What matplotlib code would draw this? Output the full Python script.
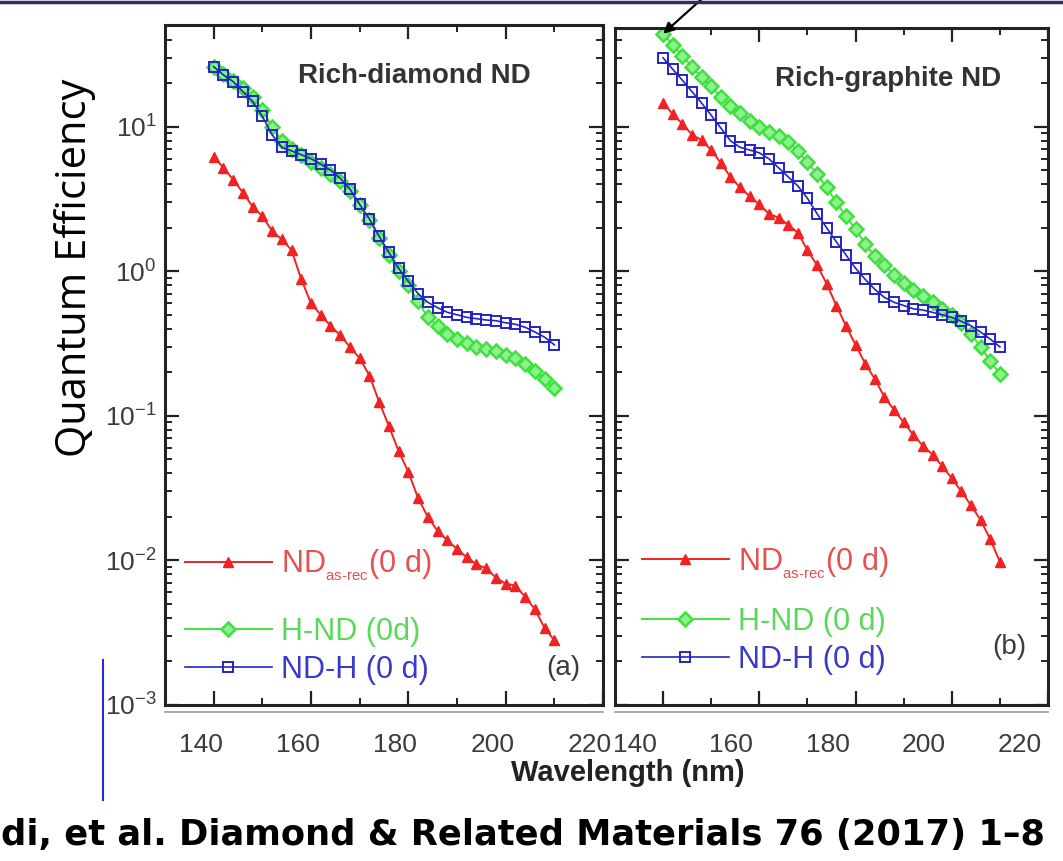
import matplotlib
matplotlib.use("Agg")
import matplotlib.pyplot as plt
from matplotlib.lines import Line2D
from matplotlib.transforms import ScaledTranslation

plt.rcParams['font.family'] = ['Liberation Sans', 'DejaVu Sans']
plt.rcParams['mathtext.fontset'] = 'custom'
plt.rcParams['mathtext.rm'] = 'Liberation Sans'
plt.rcParams['mathtext.it'] = 'Liberation Sans:italic'
plt.rcParams['mathtext.bf'] = 'Liberation Sans:bold'

# longitud de onda (nm), la misma para todas las curvas
longitud = [140, 142, 144, 146, 148, 150, 152, 154, 156, 158, 160, 162,
            164, 166, 168, 170, 172, 174, 176, 178, 180, 182, 184, 186,
            188, 190, 192, 194, 196, 198, 200, 202, 204, 206, 208, 210]

# (a) Rich-diamond ND
rojo_a = [6.2, 5.2, 4.3, 3.5, 2.8, 2.4, 1.9, 1.66, 1.4, 0.88, 0.6, 0.5,
          0.42, 0.36, 0.30, 0.25, 0.19, 0.125, 0.085, 0.057, 0.041, 0.027, 0.020, 0.016,
          0.0138, 0.012, 0.0105, 0.0094, 0.0088, 0.0076, 0.0069, 0.0067, 0.0056, 0.0046, 0.0034, 0.0028]
verde_a = [26, 23, 20.8, 18.5, 16, 13, 10, 8.0, 7.0, 6.4, 5.7, 5.2,
           4.7, 4.2, 3.6, 2.85, 2.25, 1.7, 1.3, 1.0, 0.80, 0.62, 0.48, 0.42,
           0.37, 0.34, 0.32, 0.30, 0.29, 0.28, 0.265, 0.25, 0.23, 0.205, 0.18, 0.155]
azul_a = [26, 22.8, 20.5, 17.5, 15, 11.8, 8.8, 7.2, 6.8, 6.4, 6.0, 5.5,
          5.0, 4.4, 3.7, 2.9, 2.3, 1.75, 1.35, 1.05, 0.85, 0.70, 0.61, 0.56,
          0.52, 0.50, 0.48, 0.47, 0.46, 0.455, 0.44, 0.43, 0.41, 0.38, 0.35, 0.31]

# (b) Rich-graphite ND
rojo_b = [14.7, 12.2, 10.5, 8.8, 8.1, 6.9, 5.6, 4.5, 3.8, 3.3, 2.9, 2.5,
          2.35, 2.1, 1.85, 1.4, 1.1, 0.82, 0.58, 0.42, 0.31, 0.23, 0.18, 0.135,
          0.11, 0.09, 0.074, 0.062, 0.054, 0.045, 0.037, 0.030, 0.024, 0.019, 0.014, 0.0098]
verde_b = [44, 37, 31, 26, 22, 19, 16, 14, 12.5, 11, 10, 9.2,
           8.6, 7.9, 6.8, 5.7, 4.7, 3.8, 3.0, 2.4, 1.95, 1.55, 1.27, 1.1,
           0.95, 0.83, 0.74, 0.67, 0.61, 0.55, 0.50, 0.44, 0.37, 0.30, 0.24, 0.195]
azul_b = [30, 25, 21, 17.5, 14.6, 12, 9.8, 8.0, 7.2, 6.9, 6.6, 6.0,
          5.2, 4.5, 3.9, 3.2, 2.5, 2.0, 1.6, 1.3, 1.05, 0.88, 0.75, 0.66,
          0.61, 0.58, 0.55, 0.54, 0.52, 0.50, 0.48, 0.45, 0.42, 0.38, 0.34, 0.30]

etiquetas_a = [r'ND$_{_{\text{as-rec}}}$(0 d)', 'H-ND (0d)', 'ND-H (0 d)']
etiquetas_b = [r'ND$_{_{\text{as-rec}}}$(0 d)', 'H-ND (0 d)', 'ND-H (0 d)']

ROJO = '#f02222'
VERDE = '#3fe03f'
AZUL = '#2424c4'
GRIS = '#3c3c3c'
COLOR_TEXTO = ['#e65050', '#5ad85a', '#3a3ac8']


def dibujarCurvas(ax, rojo, verde, azul):
    ax.plot(longitud, rojo, color=ROJO, lw=1.4, marker='^', ms=7,
            mfc=ROJO, mec=ROJO)
    ax.plot(longitud, verde, color=VERDE, lw=1.4, marker='D', ms=7.5,
            mfc='#8cf28c', mec=VERDE, mew=1.8)
    ax.plot(longitud, azul, color=AZUL, lw=1.2, marker='s', ms=7,
            mfc='none', mec=AZUL, mew=1.4)


def formatoEjes(ax, arriba):
    ax.set_yscale('log')
    ax.set_xlim(130, 220)
    ax.set_ylim(1e-3, arriba)
    ax.set_xticks([140, 160, 180, 200, 220])
    ax.set_xticks([150, 170, 190, 210], minor=True)
    ax.tick_params(which='both', direction='in', top=True, right=True,
                   colors='#222222', labelcolor=GRIS, labelsize=19)
    ax.tick_params(which='major', length=10, width=1.6)
    ax.tick_params(which='minor', length=5, width=1.4)
    ax.tick_params(axis='x', pad=20)
    ax.tick_params(axis='y', pad=6)
    for lado in ax.spines.values():
        lado.set_linewidth(2.2)
        lado.set_color('#222222')


def correrEtiquetas(ax, dx):
    # las etiquetas del eje x en la figura original estan corridas a la izquierda
    desplazamiento = ScaledTranslation(dx / 100, 0, fig.dpi_scale_trans)
    for etiqueta in ax.get_xticklabels():
        etiqueta.set_transform(etiqueta.get_transform() + desplazamiento)


def leyenda(ax, etiquetas, x0, y_rojo, y0):
    lineas = ax.get_lines()
    opciones = dict(frameon=False, fontsize=22, handlelength=2.85,
                    handletextpad=0.3, labelspacing=0.25, borderpad=0,
                    borderaxespad=0)
    primera = ax.legend(lineas[:1], etiquetas[:1], loc='center left',
                        bbox_to_anchor=(x0, y_rojo), labelcolor=COLOR_TEXTO[:1],
                        **opciones)
    ax.add_artist(primera)
    ax.legend(lineas[1:], etiquetas[1:], loc='lower left',
              bbox_to_anchor=(x0, y0), labelcolor=COLOR_TEXTO[1:], **opciones)


fig = plt.figure(figsize=(10.63, 8.61), dpi=100)
ax1 = fig.add_axes([165 / 1063, 1 - 705 / 861, 438 / 1063, 680 / 861])
ax2 = fig.add_axes([615 / 1063, 1 - 705 / 861, 433 / 1063, 677 / 861])

dibujarCurvas(ax1, rojo_a, verde_a, azul_a)
formatoEjes(ax1, 50.5)
correrEtiquetas(ax1, -13)
leyenda(ax1, etiquetas_a, 0.045, 0.205, 0.03)
ax1.text(0.57, 0.925, 'Rich-diamond ND', transform=ax1.transAxes,
         ha='center', va='center', fontsize=20, fontweight='bold', color='#333333')
ax1.text(0.91, 0.055, '(a)', transform=ax1.transAxes, ha='center',
         va='center', fontsize=20, color=GRIS)

dibujarCurvas(ax2, rojo_b, verde_b, azul_b)
formatoEjes(ax2, 48.2)
ax2.tick_params(axis='y', which='both', labelleft=False)
correrEtiquetas(ax2, -28)
leyenda(ax2, etiquetas_b, 0.062, 0.21, 0.045)
ax2.text(0.63, 0.925, 'Rich-graphite ND', transform=ax2.transAxes,
         ha='center', va='center', fontsize=20, fontweight='bold', color='#333333')
ax2.text(0.91, 0.085, '(b)', transform=ax2.transAxes, ha='center',
         va='center', fontsize=20, color=GRIS)

# flecha negra sobre el primer punto verde
ax2.annotate('', xy=(longitud[0], verde_b[0]), xytext=(30, 27),
             textcoords='offset points', annotation_clip=False,
             arrowprops=dict(arrowstyle='-|>', color='black', lw=1.6,
                             mutation_scale=16, shrinkA=0, shrinkB=0))

fig.text(628 / 1063, 1 - 773 / 861, 'Wavelength (nm)', ha='center',
         va='center', fontsize=21, fontweight='bold', color='#222222')
fig.text(75 / 1063, 1 - 268 / 861, 'Quantum Efficiency', rotation=90,
         ha='center', va='center', fontsize=30, family=['Open Sans', 'DejaVu Sans'],
         color='black')
fig.text(1045 / 1063, 1 - 835 / 861, 'di, et al. Diamond & Related Materials 76 (2017) 1\u20138',
         ha='right', va='center', fontsize=25.4, fontweight='bold',
         family=['DejaVu Sans'], color='black')

# detalles de la diapositiva
fig.add_artist(Line2D([0, 1], [1 - 1.5 / 861, 1 - 1.5 / 861], color='#3d2a5c', lw=2.5))
fig.add_artist(Line2D([103 / 1063, 103 / 1063], [1 - 660 / 861, 1 - 800 / 861],
                      color='#2a2ad0', lw=1.5))
fig.add_artist(Line2D([165 / 1063, 603 / 1063], [1 - 712 / 861, 1 - 712 / 861],
                      color='#999999', lw=1.2))
fig.add_artist(Line2D([615 / 1063, 1048 / 1063], [1 - 712 / 861, 1 - 712 / 861],
                      color='#999999', lw=1.2))

fig.savefig('out.png', dpi=100)
